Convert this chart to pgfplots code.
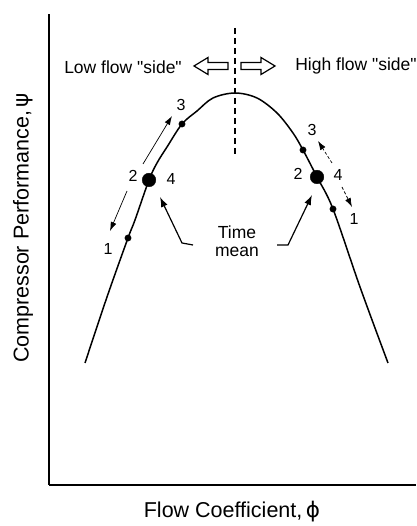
\documentclass[border=0pt]{standalone}
\usepackage{pgfplots}
\pgfplotsset{compat=1.18}
\usepackage{fontspec}
\setmainfont{Liberation Sans}
\newfontfamily\nq{Liberation Sans}
\newfontfamily\greek{DejaVu Sans}
\usetikzlibrary{arrows.meta}

\begin{document}
\begin{tikzpicture}
\begin{axis}[
  width=367pt, height=471pt, scale only axis,
  xmin=49, xmax=416, ymin=41, ymax=512,
  axis x line*=bottom, axis y line*=left,
  axis line style={line width=1.6pt, -},
  xtick=\empty, ytick=\empty,
  clip=false,
]
% bounding box
\path (axis cs:0,0) rectangle (axis cs:416,526);

% characteristic curve
\addplot[line width=1.5pt, smooth, tension=0.55] coordinates {
(85,163) (107,229) (128,288) (135,306) (149,346) (157,363) (167,379)
(182,402) (197,415) (213,428) (235,433) (257,428) (277,413) (293,393)
(303,376) (317,349) (333,317) (360,239) (388,163)};

% dashed peak line
\addplot[line width=1.2pt, dash pattern=on 6pt off 4pt] coordinates {(235,498) (235,371)};

% points
\addplot[only marks, mark=*, mark size=3.2pt] coordinates {(128,288) (182,402) (303,376) (333,317)};
\addplot[only marks, mark=*, mark size=6.8pt] coordinates {(149,346) (317,349)};

% small cycle arrows
\addplot[line width=0.7pt, -{Latex[length=9pt,width=6pt]}] coordinates {(143,362) (172,410)};
\addplot[line width=0.7pt, -{Latex[length=9pt,width=6pt]}] coordinates {(127,335) (110,295)};
\addplot[line width=0.7pt, dash pattern=on 3pt off 2pt, -{Latex[length=9pt,width=6pt]}] coordinates {(332,363) (318,385)};
\addplot[line width=0.7pt, dash pattern=on 3pt off 2pt, -{Latex[length=9pt,width=6pt]}] coordinates {(342,339) (352,319)};

% time mean arrows
\addplot[line width=1.2pt, -{Latex[length=10pt,width=7pt]}] coordinates {(193,281) (182,283) (160,329)};
\addplot[line width=1.2pt, -{Latex[length=10pt,width=7pt]}] coordinates {(277,281) (288,281) (312,331)};

% hollow arrows
\draw[line width=1.2pt, fill=white] (axis cs:228,463.5) -- (axis cs:208,463.5) -- (axis cs:208,468.5)
  -- (axis cs:194,460) -- (axis cs:208,451.5) -- (axis cs:208,456.5) -- (axis cs:228,456.5) -- cycle;
\draw[line width=1.2pt, fill=white] (axis cs:241,463.5) -- (axis cs:261,463.5) -- (axis cs:261,468.5)
  -- (axis cs:275,460) -- (axis cs:261,451.5) -- (axis cs:261,456.5) -- (axis cs:241,456.5) -- cycle;

% texts
\begin{scope}[every node/.style={font=\nq\fontsize{17.5}{20}\selectfont, inner sep=0pt}]
\node at (axis cs:123,459) {Low flow "side"};
\node at (axis cs:356,460) {High flow "side"};
\node at (axis cs:237,294) {Time};
\node at (axis cs:237,274) {mean};
\end{scope}
\begin{scope}[every node/.style={font=\fontsize{16}{18}\selectfont, inner sep=0pt}]
\node at (axis cs:108,277) {1};
\node at (axis cs:133,350) {2};
\node at (axis cs:181,421) {3};
\node at (axis cs:171,347) {4};
\node at (axis cs:312,396) {3};
\node at (axis cs:298,352) {2};
\node at (axis cs:338,351) {4};
\node at (axis cs:354,307) {1};
\end{scope}
\node[rotate=90, font=\fontsize{21.5}{24}\selectfont, inner sep=0pt] at (axis cs:23,298) {Compressor Performance,\,{\greek ψ}};
\node[font=\fontsize{21.5}{24}\selectfont, inner sep=0pt] at (axis cs:232,14) {Flow Coefficient,\,{\greek ϕ}};
\end{axis}
\end{tikzpicture}
\end{document}
